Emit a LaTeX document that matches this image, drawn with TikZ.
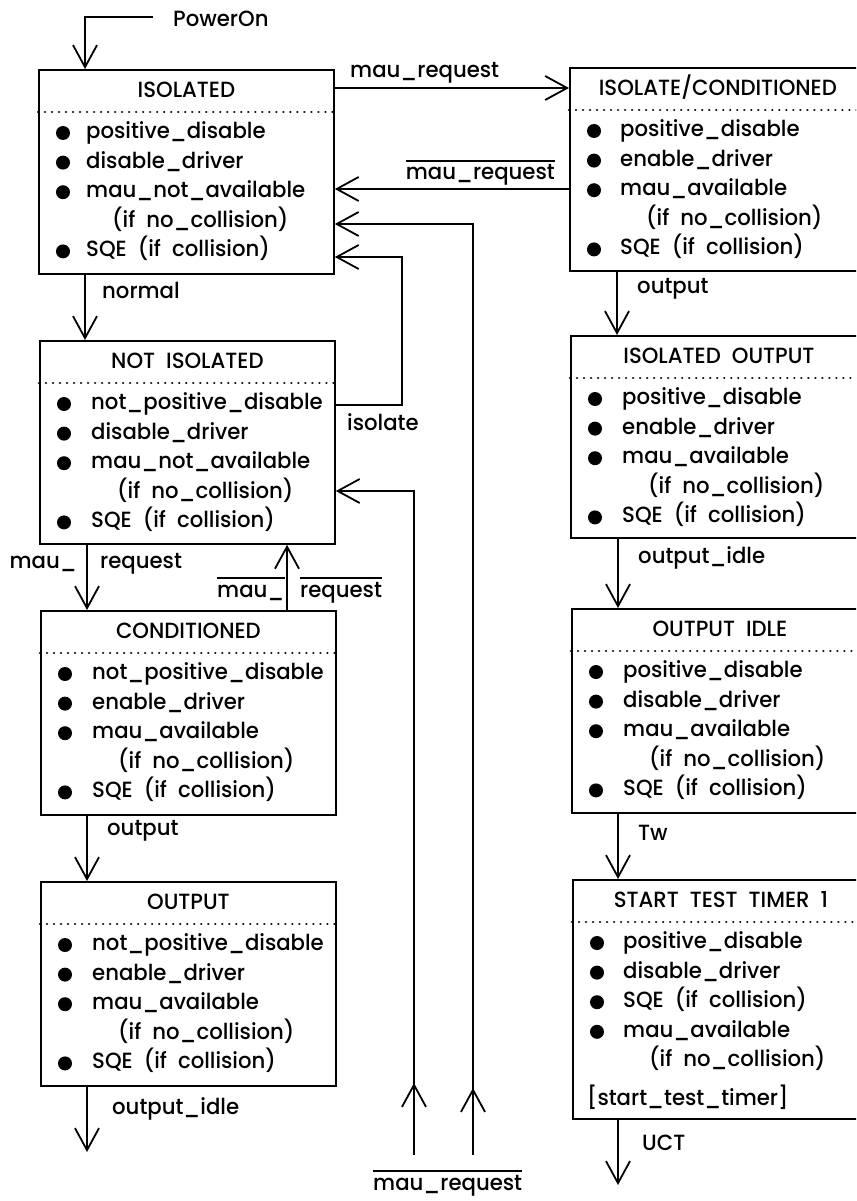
\documentclass[tikz,border=0pt]{standalone}
\usepackage{fontspec}
\setmainfont{Poppins}[UprightFont={* Medium}, WordSpace=2, FakeStretch=0.965]
\usetikzlibrary{arrows.meta}
\newcommand\mfnt{\fontsize{22}{26}\selectfont}
\newcommand\stbox[7]{%
  \node[stbox, minimum height=#4pt] (#1) at (#2,#3) {};
  \node[sttitle] (#1-t) at ([yshift=-28.5pt]#1.north) {#5};
  \draw[dotln] ([yshift=-43pt]#1.north west) -- ([yshift=-43pt]#1.north east);
  \foreach \f/\t [count=\k] in {#7}{%
    \def\dx{0}\def\dy{0}%
    \if\f i\def\dx{26}\fi
    \if\f s\def\dx{-36}\def\dy{9}\fi
    \node[item] (#1-\k) at ([xshift={(#6+\dx)*1pt}, yshift={-(69.5+29.6*(\k-1)+\dy)*1pt}]#1.north west) {\t};
    \if\f b\fill ([xshift={(25-#6)*1pt}, yshift=5.5pt]#1-\k.base west) circle[radius=7pt];\fi
  }%
}
\newcommand\ovlnode[4]{%
  \node[lbl, text height=19pt, anchor=#2] (#1) at #3 {#4};
  \draw[ln] (#1.north west) -- (#1.north east);
}
\begin{document}
\begin{tikzpicture}[x=1pt, y=-1pt,
  every node/.style={font=\mfnt},
  ln/.style={line width=1.8pt},
  arr/.style={line width=1.8pt, -{Straight Barb[length=22pt, width=24pt]}},
  stbox/.style={draw, line width=1.8pt, minimum width=295pt, inner sep=0pt, anchor=north west},
  sttitle/.style={anchor=base, inner sep=0pt},
  item/.style={anchor=base west, inner sep=0pt},
  lbl/.style={anchor=base west, inner sep=0pt},
  dotln/.style={line width=2.6pt, line cap=round, dash pattern=on 0.01pt off 7pt}]
\useasboundingbox (0,0) rectangle (856,1201);
\clip (0,0) rectangle (856,1201);

% left column
\stbox{iso}{38}{69}{204}{ISOLATED}{48}{b/positive\_disable, b/disable\_driver, b/mau\_not\_available, i/(if no\_collision), b/SQE (if collision)}
\stbox{notiso}{39}{340}{203}{NOT ISOLATED}{52}{b/not\_positive\_disable, b/disable\_driver, b/mau\_not\_available, i/(if no\_collision), b/SQE (if collision)}
\stbox{cond}{40}{610}{204}{CONDITIONED}{52}{b/not\_positive\_disable, b/enable\_driver, b/mau\_available, i/(if no\_collision), b/SQE (if collision)}
\stbox{out}{40}{881}{204}{OUTPUT}{52}{b/not\_positive\_disable, b/enable\_driver, b/mau\_available, i/(if no\_collision), b/SQE (if collision)}

% right column
\tikzset{stbox/.append style={minimum width=296pt}}
\stbox{isocond}{569}{67}{203}{ISOLATE/CONDITIONED}{51}{b/positive\_disable, b/enable\_driver, b/mau\_available, i/(if no\_collision), b/SQE (if collision)}
\stbox{isoout}{570}{335}{202}{ISOLATED OUTPUT}{52}{b/positive\_disable, b/enable\_driver, b/mau\_available, i/(if no\_collision), b/SQE (if collision)}
\stbox{outidle}{571}{608}{204}{OUTPUT IDLE}{52}{b/positive\_disable, b/disable\_driver, b/mau\_available, i/(if no\_collision), b/SQE (if collision)}
\stbox{stt}{572}{879}{239}{START TEST TIMER 1}{51}{b/positive\_disable, b/disable\_driver, b/SQE (if collision), b/mau\_available, i/(if no\_collision), s/[start\_test\_timer]}

% free ends
\coordinate (pw) at (153,17);
\coordinate (b1) at (414,1155);
\coordinate (b2) at (473,1155);
\coordinate (oend) at (87,1152);
\coordinate (uend) at (618,1185);

% connectors
\draw[arr] (pw) -| ([xshift=47pt]iso.north west);
\node[lbl] (lpw) at (173,27) {PowerOn};

\draw[arr] ([yshift=-19pt]iso.north east) -- ([yshift=-19pt]iso.north east -| isocond.west);
\node[lbl] (lmr1) at (350,78) {mau\_request};

\draw[arr] ([yshift=-122pt]isocond.north west) -- ([yshift=-122pt]isocond.north west -| iso.east);
\ovlnode{lmr2}{base east}{(555,180)}{mau\_request}

\draw[arr] (b2) |- ([yshift=-155pt]iso.north east);
\draw[arr] ([yshift=47pt]b2) -- ([yshift=67pt]b2);

\draw[arr] ([yshift=-65pt]notiso.north east) -- ++(66,0) |- ([yshift=-188pt]iso.north east);
\node[lbl] (liso) at (347,430) {isolate};

\draw[arr] (b1) |- ([yshift=-151pt]notiso.north east);
\draw[arr] ([yshift=47pt]b1) -- ([yshift=72pt]b1);
\ovlnode{lmr3}{base west}{(373,1190)}{mau\_request}

\draw[arr] ([xshift=47pt]iso.south west) -- ([xshift=47pt]iso.south west |- notiso.north);
\node[lbl] (lnorm) at (102,298) {normal};

\draw[arr] ([xshift=48pt]notiso.south west) -- ([xshift=48pt]notiso.south west |- cond.north);
\node[lbl, anchor=base east] (lm1) at (77,568) {mau\_};
\node[lbl] (lr1) at (100,568) {request};

\draw[arr] ([xshift=247pt]cond.north west) -- ([xshift=247pt]cond.north west |- notiso.south);
\ovlnode{lm2}{base west}{(217,597)}{mau\_}
\ovlnode{lr2}{base west}{(300,597)}{request}

\draw[arr] ([xshift=47pt]cond.south west) -- ([xshift=47pt]cond.south west |- out.north);
\node[lbl] (lout1) at (107,835) {output};

\draw[arr] ([xshift=47pt]out.south west) -- (oend);
\node[lbl] (loi1) at (112,1114) {output\_idle};

\draw[arr] ([xshift=48pt]isocond.south west) -- ([xshift=48pt]isocond.south west |- isoout.north);
\node[lbl] (lout2) at (637,293) {output};

\draw[arr] ([xshift=48pt]isoout.south west) -- ([xshift=48pt]isoout.south west |- outidle.north);
\node[lbl] (loi2) at (638,563) {output\_idle};

\draw[arr] ([xshift=47pt]outidle.south west) -- ([xshift=47pt]outidle.south west |- stt.north);
\node[lbl] (ltw) at (638,840) {Tw};

\draw[arr] ([xshift=46pt]stt.south west) -- (uend);
\node[lbl] (luct) at (642,1150) {UCT};
\end{tikzpicture}
\end{document}
